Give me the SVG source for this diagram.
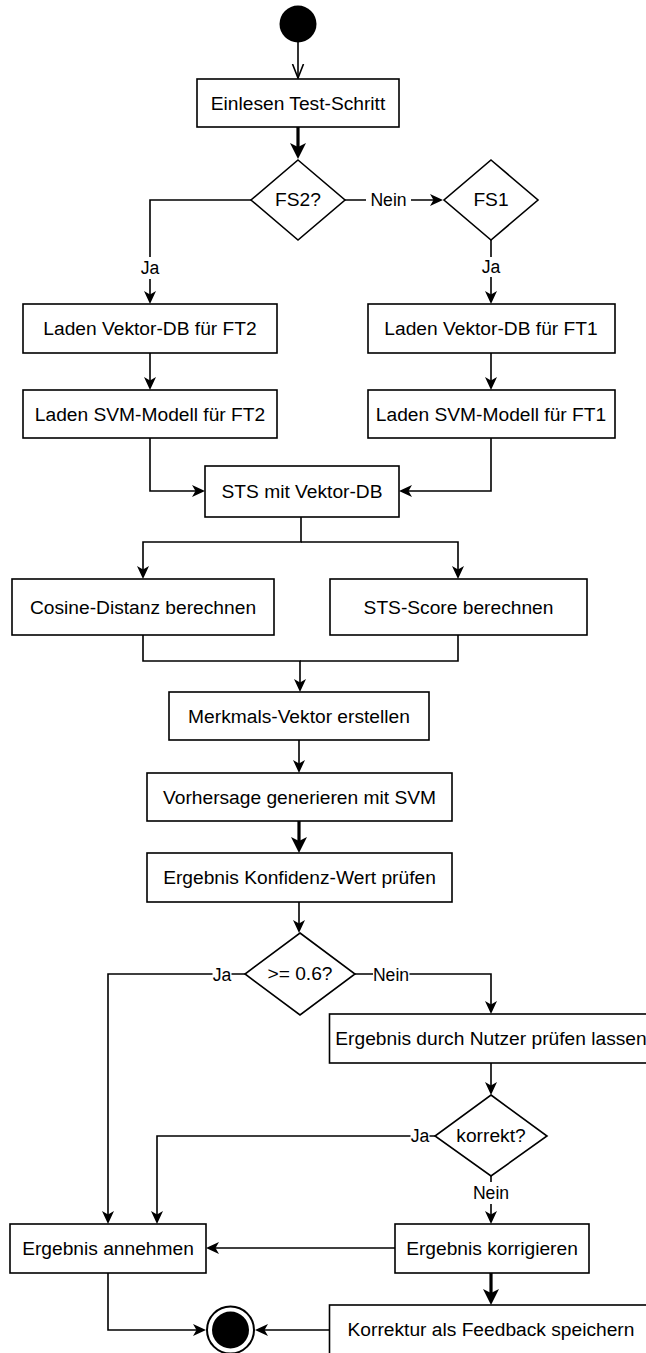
<svg xmlns="http://www.w3.org/2000/svg" width="646" height="1353" viewBox="0 0 646 1353">
  <defs>
    <style>
      .box { fill: #ffffff; stroke: #000000; stroke-width: 1.6; }
      .t { font-family: "Liberation Sans", Arial, sans-serif; font-size: 19.2px; fill: #000000; text-anchor: middle; }
      .lbl { font-family: "Liberation Sans", Arial, sans-serif; font-size: 17.6px; fill: #000000; text-anchor: middle; }
      .bg { fill: #ffffff; stroke: none; }
      .e { fill: none; stroke: #000000; stroke-width: 1.6; }
      .thick { stroke-width: 3.2; }
    </style>
    <!-- filled classic arrowhead; line ends 4px before the tip -->
    <marker id="arr" markerUnits="userSpaceOnUse" markerWidth="14" markerHeight="12" refX="9" refY="6" orient="auto">
      <path d="M0,0 L13,6 L0,12 L3.5,6 Z" fill="#000000"/>
    </marker>
    <!-- larger arrowhead for thick connectors; line ends 5px before the tip -->
    <marker id="arrBig" markerUnits="userSpaceOnUse" markerWidth="17" markerHeight="16" refX="11" refY="8" orient="auto">
      <path d="M0,0 L16,8 L0,16 L4,8 Z" fill="#000000"/>
    </marker>
    <!-- open arrowhead leaving the initial state -->
    <marker id="open" markerUnits="userSpaceOnUse" markerWidth="16" markerHeight="14" refX="14" refY="7" orient="auto">
      <path d="M0,1.5 L14,7 L0,12.5" fill="none" stroke="#000000" stroke-width="1.6"/>
    </marker>
  </defs>

  <rect width="646" height="1353" fill="#ffffff"/>

  <!-- connectors -->
  <g id="connectors">
    <path class="e" d="M298,42 V78" marker-end="url(#open)"/>
    <path class="e thick" d="M298,127 V154" marker-end="url(#arrBig)"/>
    <path class="e" d="M251,200 H150 V300" marker-end="url(#arr)"/>
    <path class="e" d="M345,200 H439" marker-end="url(#arr)"/>
    <path class="e" d="M491,240 V300" marker-end="url(#arr)"/>
    <path class="e" d="M150,353 V386" marker-end="url(#arr)"/>
    <path class="e" d="M491,353 V386" marker-end="url(#arr)"/>
    <path class="e" d="M150,438 V491 H201" marker-end="url(#arr)"/>
    <path class="e" d="M491,438 V491 H403" marker-end="url(#arr)"/>
    <path class="e" d="M301,517 V542 H143 V575" marker-end="url(#arr)"/>
    <path class="e" d="M301,542 H458 V575" marker-end="url(#arr)"/>
    <path class="e" d="M143,635 V661 H300 V688" marker-end="url(#arr)"/>
    <path class="e" d="M458,635 V661 H300"/>
    <path class="e" d="M299,740 V769" marker-end="url(#arr)"/>
    <path class="e thick" d="M299,821 V848" marker-end="url(#arrBig)"/>
    <path class="e" d="M299,902 V929" marker-end="url(#arr)"/>
    <path class="e" d="M245,974 H108 V1220" marker-end="url(#arr)"/>
    <path class="e" d="M355,974 H491 V1010" marker-end="url(#arr)"/>
    <path class="e" d="M491,1063 V1091" marker-end="url(#arr)"/>
    <path class="e" d="M435,1136 H157 V1220" marker-end="url(#arr)"/>
    <path class="e" d="M491,1176 V1220" marker-end="url(#arr)"/>
    <path class="e" d="M395,1248 H210" marker-end="url(#arr)"/>
    <path class="e thick" d="M491,1273 V1300" marker-end="url(#arrBig)"/>
    <path class="e" d="M108,1273 V1330 H202" marker-end="url(#arr)"/>
    <path class="e" d="M329,1330 H259" marker-end="url(#arr)"/>

    <!-- edge labels on white backgrounds -->
    <rect class="bg" x="139" y="257" width="22" height="22"/>
    <text class="lbl" x="150" y="274">Ja</text>
    <rect class="bg" x="366" y="191" width="45" height="20"/>
    <text class="lbl" x="388.5" y="206">Nein</text>
    <rect class="bg" x="480" y="257" width="22" height="20"/>
    <text class="lbl" x="491" y="273">Ja</text>
    <rect class="bg" x="212.5" y="965" width="19" height="20"/>
    <text class="lbl" x="222" y="981">Ja</text>
    <rect class="bg" x="373" y="965" width="36.5" height="20"/>
    <text class="lbl" x="391" y="981">Nein</text>
    <rect class="bg" x="410.5" y="1127" width="19" height="20"/>
    <text class="lbl" x="420" y="1142">Ja</text>
    <rect class="bg" x="472" y="1182" width="38" height="22"/>
    <text class="lbl" x="491" y="1199">Nein</text>
  </g>

  <!-- nodes -->
  <g id="start">
    <circle cx="298" cy="24" r="18.5" fill="#000000"/>
  </g>
  <g id="einlesen">
    <rect class="box" x="197" y="79" width="202" height="48"/>
    <text class="t" x="298" y="109.5">Einlesen Test-Schritt</text>
  </g>
  <g id="fs2">
    <polygon class="box" points="298,160 345,200 298,240 251,200"/>
    <text class="t" x="298" y="205.5">FS2?</text>
  </g>
  <g id="fs1">
    <polygon class="box" points="491,160 538,200 491,240 444,200"/>
    <text class="t" x="491" y="205.5">FS1</text>
  </g>
  <g id="vektor-ft2">
    <rect class="box" x="23" y="304" width="254" height="49"/>
    <text class="t" x="150" y="335">Laden Vektor-DB für FT2</text>
  </g>
  <g id="vektor-ft1">
    <rect class="box" x="368" y="304" width="247" height="49"/>
    <text class="t" x="491" y="335">Laden Vektor-DB für FT1</text>
  </g>
  <g id="svm-ft2">
    <rect class="box" x="23" y="390" width="254" height="48"/>
    <text class="t" x="150" y="420.5">Laden SVM-Modell für FT2</text>
  </g>
  <g id="svm-ft1">
    <rect class="box" x="368" y="390" width="247" height="48"/>
    <text class="t" x="491" y="420.5">Laden SVM-Modell für FT1</text>
  </g>
  <g id="sts">
    <rect class="box" x="205" y="466" width="194" height="51"/>
    <text class="t" x="302" y="498">STS mit Vektor-DB</text>
  </g>
  <g id="cosine">
    <rect class="box" x="12" y="579" width="262" height="56"/>
    <text class="t" x="143" y="614">Cosine-Distanz berechnen</text>
  </g>
  <g id="sts-score">
    <rect class="box" x="330" y="579" width="257" height="56"/>
    <text class="t" x="458.5" y="614">STS-Score berechnen</text>
  </g>
  <g id="merkmals">
    <rect class="box" x="169" y="692" width="260" height="48"/>
    <text class="t" x="299" y="722.5">Merkmals-Vektor erstellen</text>
  </g>
  <g id="vorhersage">
    <rect class="box" x="147" y="773" width="305" height="48"/>
    <text class="t" x="299.5" y="803.5">Vorhersage generieren mit SVM</text>
  </g>
  <g id="konfidenz">
    <rect class="box" x="147" y="853" width="305" height="49"/>
    <text class="t" x="299.5" y="884">Ergebnis Konfidenz-Wert prüfen</text>
  </g>
  <g id="schwelle">
    <polygon class="box" points="300,933 355,974 300,1015 245,974"/>
    <text class="t" x="300" y="980">&gt;= 0.6?</text>
  </g>
  <g id="nutzer">
    <rect class="box" x="329.5" y="1014" width="323" height="49"/>
    <text class="t" x="491" y="1045">Ergebnis durch Nutzer prüfen lassen</text>
  </g>
  <g id="korrekt">
    <polygon class="box" points="491,1095 547,1136 491,1176 435,1136"/>
    <text class="t" x="491" y="1142">korrekt?</text>
  </g>
  <g id="annehmen">
    <rect class="box" x="10" y="1224" width="196" height="49"/>
    <text class="t" x="108" y="1255">Ergebnis annehmen</text>
  </g>
  <g id="korrigieren">
    <rect class="box" x="395" y="1224" width="194" height="49"/>
    <text class="t" x="492" y="1255">Ergebnis korrigieren</text>
  </g>
  <g id="feedback">
    <rect class="box" x="329.5" y="1305" width="323" height="49"/>
    <text class="t" x="491" y="1336">Korrektur als Feedback speichern</text>
  </g>
  <g id="end">
    <circle cx="230.5" cy="1330" r="23.5" fill="#ffffff" stroke="#000000" stroke-width="2"/>
    <circle cx="230.5" cy="1330" r="18.5" fill="#000000"/>
  </g>
</svg>
